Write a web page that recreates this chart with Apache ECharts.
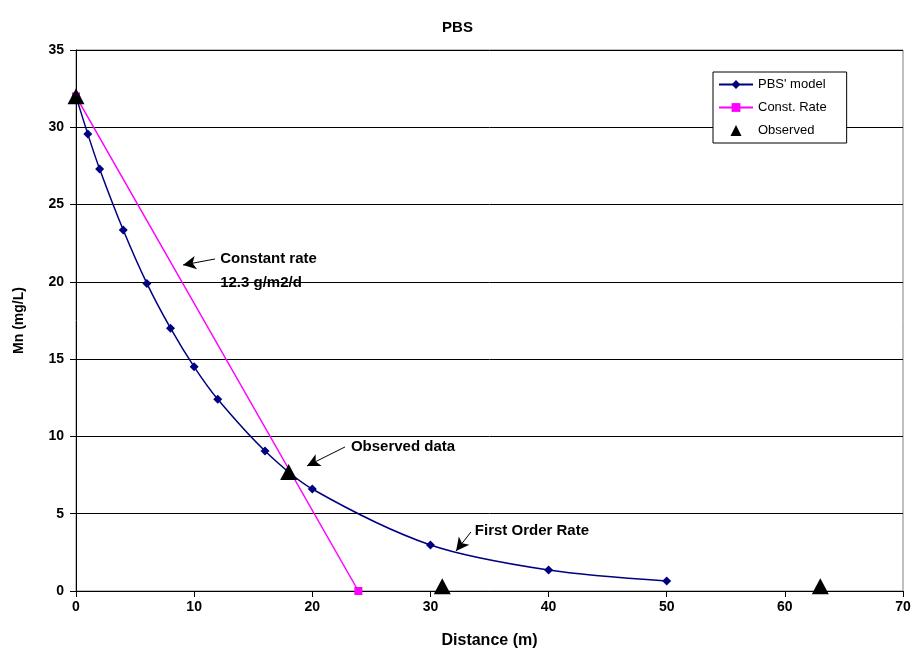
<!DOCTYPE html>
<html><head><meta charset="utf-8">
<script src="https://cdn.jsdelivr.net/npm/echarts@6/dist/echarts.min.js"></script>
<style>html,body{margin:0;padding:0;background:#fff}#c{width:915px;height:667px}</style>
</head><body><div id="c"></div>
<script>
var modelX = [0, 1, 2, 4, 6, 8, 10, 12, 16, 20, 30, 40, 50];
var modelY = [32, 29.56, 27.3, 23.35, 19.9, 17.0, 14.5, 12.4, 9.06, 6.6, 2.98, 1.36, 0.65];
var constX = [0, 23.9];
var constY = [32, 0];
var obsX = [0, 18, 31, 63];
var obsY = [32, 7.7, 0.3, 0.3];
var notes = [
  {text: 'Constant rate', x: 12.2, y: 21.5, ax: 11.77, ay: 21.48, bx: 9.06, by: 21.09},
  {text: '12.3 g/m2/d', x: 12.2, y: 19.95},
  {text: 'Observed data', x: 23.27, y: 9.32, ax: 22.77, ay: 9.32, bx: 19.55, by: 8.09},
  {text: 'First Order Rate', x: 33.76, y: 3.88, ax: 33.43, ay: 3.82, bx: 32.17, by: 2.59}
];
function zip(a, b) { return a.map(function (v, i) { return [v, b[i]]; }); }
var F = 'Liberation Sans, Arial, sans-serif';
var chart = echarts.init(document.getElementById('c'));
var arrows = notes.filter(function (n) { return n.ax !== undefined; }).map(function (n) {
  return [{coord: [n.ax, n.ay]}, {coord: [n.bx, n.by]}];
});
chart.setOption({
  animation: false,
  backgroundColor: '#fff',
  title: {text: 'PBS', left: 'center', top: 15, textStyle: {fontFamily: F, fontSize: 15, fontWeight: 'bold', color: '#000'}},
  grid: {left: 76, right: 12, top: 50, bottom: 76, show: true, borderColor: '#808080', borderWidth: 1},
  legend: {
    orient: 'vertical', left: 713, top: 72, width: 133,
    padding: [6, 20, 6, 5], itemGap: 10, itemWidth: 34, itemHeight: 11,
    borderColor: '#000', borderWidth: 1, backgroundColor: '#fff', borderRadius: 0,
    textStyle: {fontFamily: F, fontSize: 13, color: '#000'},
    data: [
      {name: "PBS' model"},
      {name: 'Const. Rate'},
      {name: 'Observed', icon: 'path://M0,0 L0,0 M34,12 L34,12 M11,12 L17,0 L23,12 Z', itemStyle: {color: '#000', opacity: 1}}
    ]
  },
  xAxis: {
    type: 'value', min: 0, max: 70, interval: 10,
    name: 'Distance (m)', nameLocation: 'middle', nameGap: 42,
    nameTextStyle: {fontFamily: F, fontSize: 16, fontWeight: 'bold', color: '#000'},
    axisLine: {show: true, onZero: false, lineStyle: {color: '#000', width: 1}},
    axisTick: {show: true, inside: false, length: 6, lineStyle: {color: '#000'}},
    axisLabel: {fontFamily: F, fontSize: 14, fontWeight: 'bold', color: '#000', margin: 9},
    splitLine: {show: false}
  },
  yAxis: {
    type: 'value', min: 0, max: 35, interval: 5,
    name: 'Mn (mg/L)', nameLocation: 'middle', nameGap: 50,
    nameTextStyle: {fontFamily: F, fontSize: 14, fontWeight: 'bold', color: '#000'},
    axisLine: {show: true, lineStyle: {color: '#000', width: 1}},
    axisTick: {show: true, inside: false, length: 6, lineStyle: {color: '#000'}},
    axisLabel: {fontFamily: F, fontSize: 14, fontWeight: 'bold', color: '#000', margin: 12},
    splitLine: {show: true, lineStyle: {color: '#000', width: 1}}
  },
  series: [
    {
      name: "PBS' model", type: 'line', smooth: 0.3, data: zip(modelX, modelY),
      symbol: 'diamond', symbolSize: 9, showAllSymbol: true,
      lineStyle: {color: '#000080', width: 1.5}, itemStyle: {color: '#000080'}, z: 3,
      markLine: {
        silent: true, symbol: ['none', 'arrow'], symbolSize: [10, 13],
        lineStyle: {color: '#000', width: 1, type: 'solid', opacity: 1},
        itemStyle: {color: '#000'}, label: {show: false},
        data: arrows
      }
    },
    {
      name: 'Const. Rate', type: 'line', data: zip(constX, constY),
      symbol: 'rect', symbolSize: 8, showAllSymbol: true,
      lineStyle: {color: '#FF00FF', width: 1.5}, itemStyle: {color: '#FF00FF'}, z: 2
    },
    {
      name: 'Observed', type: 'scatter', data: zip(obsX, obsY),
      symbol: 'triangle', symbolSize: [17, 16],
      itemStyle: {color: '#000', opacity: 1}, z: 4
    }
  ]
});
var texts = notes.map(function (n) {
  var p = chart.convertToPixel({gridIndex: 0}, [n.x, n.y]);
  return {
    type: 'text', x: p[0], y: p[1], z: 10, silent: true,
    style: {text: n.text, fill: '#000', font: 'bold 15px ' + F, textAlign: 'left', textVerticalAlign: 'middle'}
  };
});
chart.setOption({graphic: texts});
</script></body></html>
